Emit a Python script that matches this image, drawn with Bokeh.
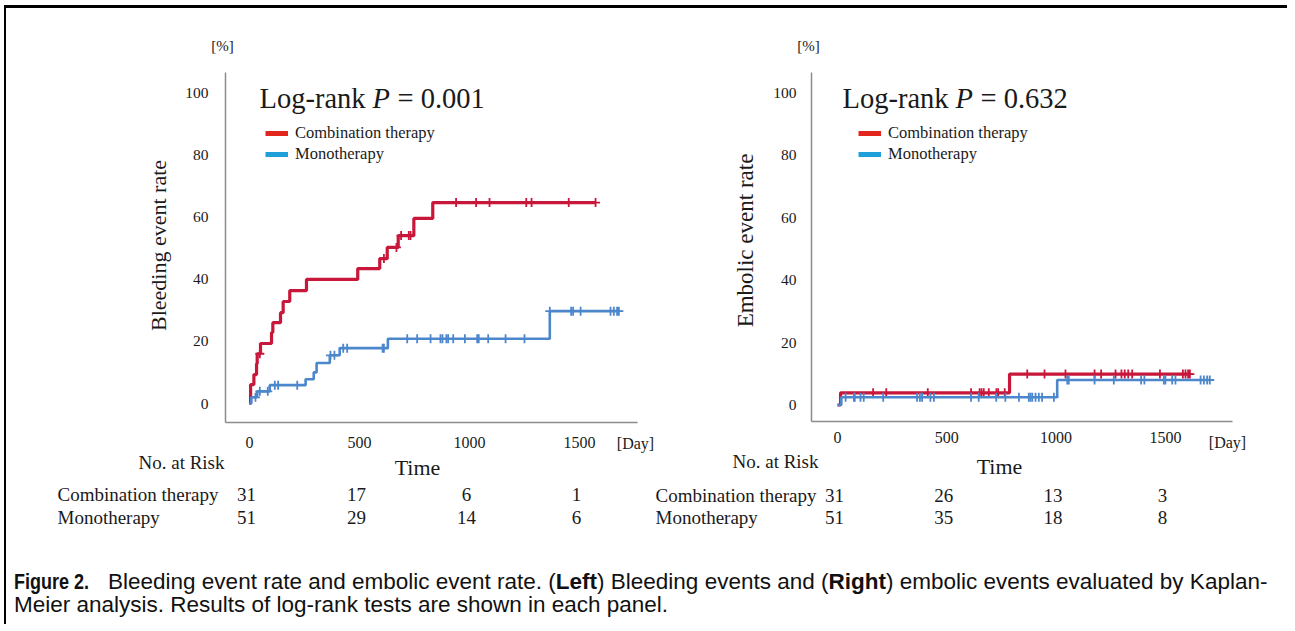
import math
from bokeh.plotting import figure
from bokeh.models import Label, LabelSet, Legend, LegendItem, FixedTicker, Range1d, Div, ColumnDataSource
from bokeh.layouts import row, column
from bokeh.embed import file_html
from bokeh.resources import INLINE
from bokeh.core.properties import value

# ------------------------------------------------------------------ data
tick_days = [0, 500, 1000, 1500]
tick_pct = [0, 20, 40, 60, 80, 100]
risk_days = [0, 500, 1000, 1500]

# Left panel: bleeding events (Kaplan-Meier, % event rate)
bleed_combo_t = [0, 5, 20, 32, 35, 50, 100, 106, 141, 153, 183, 259, 492, 592, 626, 676, 747, 833]
bleed_combo_v = [0, 6.1, 9.3, 12.8, 16.0, 19.3, 22.8, 26.0, 29.2, 32.8, 36.3, 39.9, 43.4, 46.6, 50.2, 54.0, 59.5, 64.6]
bleed_combo_end = 1573
bleed_combo_cens = [47, 611, 668, 689, 724, 732, 939, 1030, 1091, 1258, 1282, 1451, 1573]

bleed_mono_t = [0, 8, 35, 92, 255, 292, 305, 365, 410, 629, 1365]
bleed_mono_v = [0, 2.0, 3.9, 5.9, 7.8, 10.0, 13.0, 15.5, 17.8, 20.8, 29.7]
bleed_mono_end = 1679
bleed_mono_cens = [27, 47, 83, 115, 130, 217, 368, 386, 426, 444, 605, 611, 717, 762, 823, 868,
                   877, 895, 903, 926, 979, 1035, 1042, 1085, 1164, 1250, 1365, 1462, 1471, 1505,
                   1641, 1656, 1671, 1679]

# Right panel: embolic events
emb_combo_t = [0, 14, 787]
emb_combo_v = [0, 3.9, 9.9]
emb_combo_end = 1612
emb_combo_cens = [163, 223, 413, 611, 650, 659, 669, 692, 727, 735, 765, 868, 947, 1043, 1176,
                  1206, 1272, 1299, 1314, 1330, 1348, 1475, 1580, 1592, 1604, 1612]

emb_mono_t = [0, 17, 1005]
emb_mono_v = [0, 2.5, 8.0]
emb_mono_end = 1703
emb_mono_cens = [37, 75, 79, 105, 120, 209, 364, 377, 387, 425, 441, 611, 646, 726, 768, 830,
                 875, 883, 891, 906, 921, 936, 990, 1051, 1058, 1176, 1264, 1389, 1404, 1493,
                 1500, 1531, 1546, 1661, 1676, 1691, 1703]

# numbers at risk
risk_bleed_combo = [31, 17, 6, 1]
risk_bleed_mono = [51, 29, 14, 6]
risk_emb_combo = [31, 26, 13, 3]
risk_emb_mono = [51, 35, 18, 8]

series_names = ["Combination therapy", "Monotherapy"]

# ------------------------------------------------------------------ style
FONT = "Liberation Serif"
TXT = "#1a1a1a"
RED = "#C8173A"
BLUE = "#4C87CC"
LEG_RED = "#E2261E"
LEG_BLUE = "#1FA0DA"
AXIS = "#8C8C8C"

H = 540
CANVAS_TOP = 8

# page-pixel calibrations of each panel (canvas == plotting frame)
CAL_L = dict(x0=249, kx=0.22, y0=403, ky=3.11, left=225, right=637, top=72, bottom=422,
             canvas_left=6, canvas_width=648)
CAL_R = dict(x0=837, kx=0.2186, y0=404.5, ky=3.125, left=811, right=1232, top=72, bottom=421,
             canvas_left=654, canvas_width=633)


def px2x(c, px):
    return (px - c["x0"]) / c["kx"]


def py2y(c, py):
    return (c["y0"] - py) / c["ky"]


def km_at(ts, vs, t):
    v = vs[0]
    for ti, vi in zip(ts, vs):
        if ti <= t:
            v = vi
    return v


def add_label(p, c, px, py, text, size, align="center", baseline="middle", angle=0.0, style="normal"):
    p.add_layout(Label(x=px2x(c, px), y=py2y(c, py), text=text, angle=angle,
                       text_font=FONT, text_font_size=f"{size}px", text_align=align,
                       text_baseline=baseline, text_font_style=style, text_color=TXT))


def make_panel(c, curves, ylabel, ylabel_pos, pval, risks, xstand, ystand, leg_x, lr_x, texts):
    W = c["canvas_width"]
    p = figure(width=W, height=H,
               x_range=Range1d(px2x(c, c["canvas_left"]), px2x(c, c["canvas_left"] + W)),
               y_range=Range1d(py2y(c, CANVAS_TOP + H), py2y(c, CANVAS_TOP)),
               min_border=0, min_border_left=0, min_border_right=0,
               min_border_top=0, min_border_bottom=0,
               output_backend="svg", toolbar_location=None)
    p.outline_line_color = None
    p.background_fill_color = "white"
    p.border_fill_color = "white"
    p.xgrid.visible = False
    p.ygrid.visible = False

    xa, ya = p.xaxis[0], p.yaxis[0]
    xa.fixed_location = py2y(c, c["bottom"])
    xa.bounds = (px2x(c, c["left"]), px2x(c, c["right"]))
    ya.fixed_location = px2x(c, c["left"])
    ya.bounds = (py2y(c, c["bottom"]), py2y(c, c["top"]))
    for ax in (xa, ya):
        ax.axis_line_color = AXIS
        ax.axis_line_width = 1.5
        ax.major_tick_line_color = None
        ax.minor_tick_line_color = None
        ax.major_tick_out = 0
        ax.major_tick_in = 0
        ax.minor_tick_out = 0
        ax.major_label_text_font = FONT
        ax.major_label_text_color = TXT
    xa.ticker = FixedTicker(ticks=tick_days)
    ya.ticker = FixedTicker(ticks=tick_pct)
    xa.major_label_text_font_size = "16px"
    ya.major_label_text_font_size = "15.5px"
    xa.major_label_standoff = xstand
    ya.major_label_standoff = ystand

    # Kaplan-Meier curves with censoring marks
    for (ts, vs, end, cens, col, lw) in curves:
        p.step(x=ts + [end], y=vs + [vs[-1]], mode="after", line_color=col, line_width=lw)
        p.scatter(x=cens, y=[km_at(ts, vs, t) for t in cens], marker="cross", size=9,
                  line_color=col, line_width=1.8)

    # legend (bright swatches as in the original)
    r1 = p.line(x=[math.nan], y=[math.nan], line_color=LEG_RED, line_width=5)
    r2 = p.line(x=[math.nan], y=[math.nan], line_color=LEG_BLUE, line_width=5)
    leg = Legend(items=[LegendItem(label=series_names[0], renderers=[r1]),
                        LegendItem(label=series_names[1], renderers=[r2])],
                 location=(leg_x, 384), glyph_width=23, glyph_height=18, label_height=18,
                 spacing=1, padding=0, margin=0, label_standoff=7,
                 border_line_color=None, background_fill_alpha=0,
                 label_text_font=FONT, label_text_font_size="16.5px", label_text_color=TXT)
    p.add_layout(leg)

    # texts
    add_label(p, c, c["left"] - 3, 45, "[%]", 15)
    add_label(p, c, lr_x, 97.5, "Log-rank", 28.5, align="left")
    add_label(p, c, lr_x + 113, 97.5, "P", 28.5, align="left", style="italic")
    add_label(p, c, lr_x + 138, 97.5, "= " + pval, 28.5, align="left")
    add_label(p, c, ylabel_pos[0], ylabel_pos[1], ylabel, ylabel_pos[2], angle=math.pi / 2)
    day_x, day_y, time_x, time_y, risk_x, risk_y, row1, row2 = texts
    add_label(p, c, day_x, day_y, "[Day]", 16)
    add_label(p, c, time_x, time_y, "Time", 22)
    add_label(p, c, risk_x, risk_y, "No. at Risk", 19)
    add_label(p, c, row1[0], row1[1], series_names[0], 19, align="left")
    add_label(p, c, row2[0], row2[1], series_names[1], 19, align="left")
    for nums, yy in ((risks[0], row1[1]), (risks[1], row2[1])):
        src = ColumnDataSource(dict(x=risk_days, y=[py2y(c, yy)] * len(risk_days),
                                    t=[str(n) for n in nums]))
        p.add_layout(LabelSet(x="x", y="y", text="t", source=src, x_offset=-3,
                              text_font=value(FONT), text_font_size=value("19px"),
                              text_align="center", text_baseline="middle", text_color=TXT))
    return p


p1 = make_panel(CAL_L,
                [(bleed_combo_t, bleed_combo_v, bleed_combo_end, bleed_combo_cens, RED, 3.2),
                 (bleed_mono_t, bleed_mono_v, bleed_mono_end, bleed_mono_cens, BLUE, 2.6)],
                "Bleeding event rate", (158, 245, 22), "0.001",
                (risk_bleed_combo, risk_bleed_mono), 14, 17, 259, 259,
                (635, 443, 417, 467, 181, 462, (57, 494), (57, 517)))
p2 = make_panel(CAL_R,
                [(emb_combo_t, emb_combo_v, emb_combo_end, emb_combo_cens, RED, 3.2),
                 (emb_mono_t, emb_mono_v, emb_mono_end, emb_mono_cens, BLUE, 2.6)],
                "Embolic event rate", (745, 240, 23), "0.632",
                (risk_emb_combo, risk_emb_mono), 10, 15, 204, 842,
                (1227, 442, 999, 466, 775, 461, (655, 495), (655, 517)))

caption = Div(
    text=('<span style="display:inline-block;transform:scaleX(0.8);transform-origin:left center;'
          'margin-right:-6px;font-weight:bold;font-size:22.5px">Figure 2.</span>'
          ' Bleeding event rate and embolic event rate. (<b>Left</b>) Bleeding events and '
          '(<b>Right</b>) embolic events evaluated by Kaplan-<br>Meier analysis. Results of log-rank tests '
          'are shown in each panel.'),
    width=1270, height=66,
    styles={"font-family": "'Liberation Sans', Arial, sans-serif", "font-size": "22.5px",
            "line-height": "23px", "padding-top": "17px", "padding-left": "3px", "color": "#111",
            "white-space": "nowrap"})

layout = column(row(p1, p2, spacing=0), caption, spacing=0, margin=(5, 0, 0, 4),
                styles={"border-top": "3px solid black", "border-left": "2px solid black"})

open("out.html", "w").write(file_html(layout, INLINE))
